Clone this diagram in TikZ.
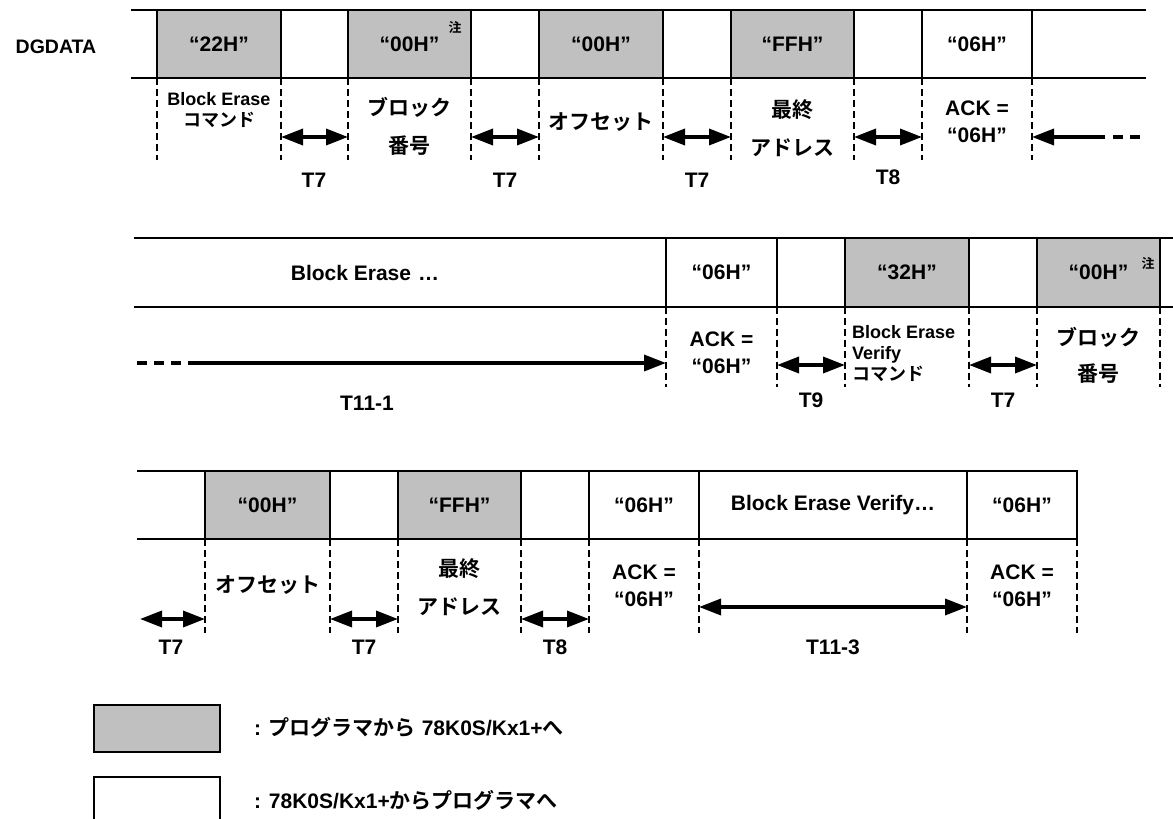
\documentclass[tikz,border=0pt]{standalone}
\usepackage{fontspec}
\setmainfont{Liberation Sans}
\newfontfamily\jpfont{Noto Sans CJK JP}[BoldFont={* Bold}]
\newcommand\jp[1]{{\jpfont#1}}
\newcommand\lblfont{\fontsize{21}{27}\selectfont\bfseries}
\newcommand\smlfont{\fontsize{18}{21}\selectfont\bfseries}
\usetikzlibrary{arrows.meta,calc}
\definecolor{pgray}{RGB}{192,192,192}

\begin{document}
\begin{tikzpicture}[x=1pt, y=-1pt,
    cell/.style={draw, line width=1.8pt, minimum height=68, inner sep=0pt,
                 outer sep=0pt, font=\lblfont},
    host/.style={cell, fill=pgray},
    dev/.style={cell, fill=white},
    wire/.style={line width=1.8pt},
    tick/.style={line width=1.3pt, dash pattern=on 7pt off 4pt},
    span/.style={{Triangle[length=22pt,width=16pt]}-{Triangle[length=22pt,width=16pt]},
                 line width=3.5pt},
    arr/.style={-{Triangle[length=22pt,width=16pt]}, line width=3.5pt},
    tail/.style={line width=3.5pt, dash pattern=on 10pt off 7pt},
    txt/.style={font=\lblfont, align=center, inner sep=0pt},
    note/.style={font=\jpfont\fontsize{13}{13}\selectfont\bfseries, inner sep=0pt}
]
\useasboundingbox (0,0) rectangle (1173,819);

% first line
\draw[wire] (131,10) -- (1146,10) (131,78) -- (1146,78);
\node[txt, font=\fontsize{19.5}{20}\selectfont\bfseries] (dg) at (56,47) {DGDATA};
\node[host, minimum width=124] (cmd1) at (219,44) {“22H”};
\node[host, minimum width=123] (blk1) at (409.5,44) {“00H”};
\node[note] (n1) at (455,27) {注};
\node[host, minimum width=124] (ofs1) at (601,44) {“00H”};
\node[host, minimum width=123] (adr1) at (792.5,44) {“FFH”};
\node[dev, minimum width=110] (ack1) at (977,44) {“06H”};

\draw[tick] (cmd1.south west) -- ++(0,82) (cmd1.south east) -- ++(0,82)
            (blk1.south west) -- ++(0,82) (blk1.south east) -- ++(0,82)
            (ofs1.south west) -- ++(0,82) (ofs1.south east) -- ++(0,82)
            (adr1.south west) -- ++(0,82) (adr1.south east) -- ++(0,82)
            (ack1.south west) -- ++(0,82) (ack1.south east) -- ++(0,82);

\coordinate (y1) at (0,137);
\coordinate (f1) at (1105,137);
\coordinate (f2) at (1113,137);
\coordinate (f3) at (1146,137);
\draw[span] (cmd1.east |- y1) -- (blk1.west |- y1);
\draw[span] (blk1.east |- y1) -- (ofs1.west |- y1);
\draw[span] (ofs1.east |- y1) -- (adr1.west |- y1);
\draw[span] (adr1.east |- y1) -- (ack1.west |- y1);
\draw[arr] (f1) -- (ack1.east |- y1);
\draw[tail] (f2) -- (f3);

\node[txt, font=\smlfont] (l1) at (219,110) {Block Erase\\\jp{コマンド}};
\node[txt] (l2) at (409.5,126) {\jp{ブロック}\\[11pt]\jp{番号}};
\node[txt] (l3) at (601,122) {\jp{オフセット}};
\node[txt] (l4) at (792.5,128) {\jp{最終}\\[11pt]\jp{アドレス}};
\node[txt] (l5) at (977,122) {ACK =\\“06H”};
\node[txt] (t1) at (314,180) {T7};
\node[txt] (t2) at (505,180) {T7};
\node[txt] (t3) at (697,180) {T7};
\node[txt] (t4) at (888,177) {T8};

% second line
\draw[wire] (134,238) -- (1173,238) (134,307) -- (1173,307);
\node[txt] (erase) at (365,273) {Block Erase\,\,…};
\node[dev, minimum width=111] (ack2) at (721.5,272.5) {“06H”};
\node[host, minimum width=124] (cmd2) at (907,272.5) {“32H”};
\node[host, minimum width=123] (blk2) at (1098.5,272.5) {“00H”};
\node[note] (n2) at (1148,263) {注};

\draw[tick] (ack2.south west) -- ++(0,80) (ack2.south east) -- ++(0,80)
            (cmd2.south west) -- ++(0,80) (cmd2.south east) -- ++(0,80)
            (blk2.south west) -- ++(0,80) (blk2.south east) -- ++(0,80);

\coordinate (y2) at (0,365);
\coordinate (g1) at (137,363);
\coordinate (g2) at (189,363);
\draw[tail] (g1) -- (g2);
\draw[arr] (g2) -- (ack2.west |- g2);
\draw[span] (ack2.east |- y2) -- (cmd2.west |- y2);
\draw[span] (cmd2.east |- y2) -- (blk2.west |- y2);

\node[txt] (l6) at (721.5,353) {ACK =\\“06H”};
\node[txt, font=\smlfont, align=left, anchor=west] (l7) at (852,354)
     {Block Erase\\Verify\\\jp{コマンド}};
\node[txt] (l8) at (1098.5,355) {\jp{ブロック}\\[9pt]\jp{番号}};
\node[txt] (t5) at (367,403) {T11-1};
\node[txt] (t6) at (811,400) {T9};
\node[txt] (t7) at (1003,400) {T7};

% third line
\draw[wire] (137,471) -- (1077,471) (137,539) -- (1077,539);
\node[host, minimum width=125] (ofs2) at (267.5,505) {“00H”};
\node[host, minimum width=123] (adr2) at (459.5,505) {“FFH”};
\node[dev, minimum width=110] (ack3) at (644,505) {“06H”};
\node[dev, minimum width=268] (vfy) at (833,505) {Block Erase Verify…};
\node[dev, minimum width=110] (ack4) at (1022,505) {“06H”};

\draw[tick] (ofs2.south west) -- ++(0,94) (ofs2.south east) -- ++(0,94)
            (adr2.south west) -- ++(0,94) (adr2.south east) -- ++(0,94)
            (ack3.south west) -- ++(0,94) (ack3.south east) -- ++(0,94)
            (ack4.south west) -- ++(0,94) (ack4.south east) -- ++(0,94);

\coordinate (y3) at (0,619);
\coordinate (y4) at (0,607);
\coordinate (h1) at (140,619);
\draw[span] (h1) -- (ofs2.west |- y3);
\draw[span] (ofs2.east |- y3) -- (adr2.west |- y3);
\draw[span] (adr2.east |- y3) -- (ack3.west |- y3);
\draw[span] (vfy.west |- y4) -- (vfy.east |- y4);

\node[txt] (l9) at (267.5,585) {\jp{オフセット}};
\node[txt] (l10) at (459.5,587) {\jp{最終}\\[11pt]\jp{アドレス}};
\node[txt] (l11) at (644,586) {ACK =\\“06H”};
\node[txt] (l12) at (1022,586) {ACK =\\“06H”};
\node[txt] (t8) at (171,647) {T7};
\node[txt] (t9) at (364,647) {T7};
\node[txt] (t10) at (555,647) {T8};
\node[txt] (t11) at (833,647) {T11-3};

% legend
\node[host, minimum width=126, minimum height=47] (key1) at (157,728.5) {};
\node[dev, minimum width=126, minimum height=64] (key2) at (157,809) {};
\node[txt, anchor=west] (k1) at (254,727) {: \jp{プログラマから} 78K0S/Kx1+\jp{へ}};
\node[txt, anchor=west] (k2) at (254,800) {: 78K0S/Kx1+\jp{からプログラマへ}};

\end{tikzpicture}
\end{document}
